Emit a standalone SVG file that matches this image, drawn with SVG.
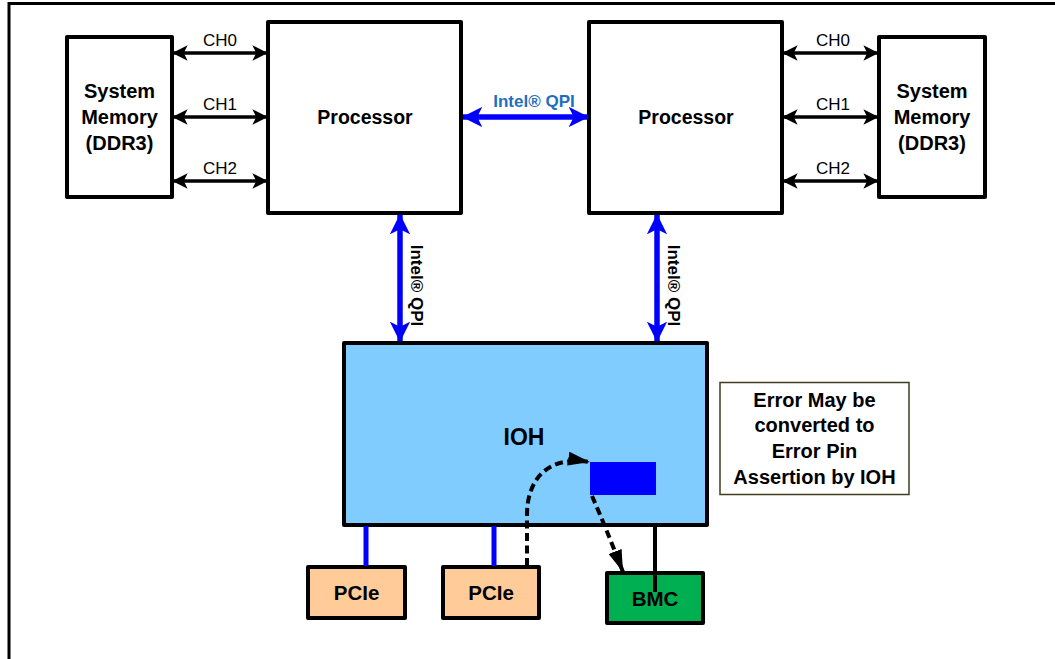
<svg xmlns="http://www.w3.org/2000/svg" width="1055" height="659" viewBox="0 0 1055 659">
<style>
.box{stroke:#000;stroke-width:4;stroke-linejoin:round}
.t{font-family:"Liberation Sans",Arial,sans-serif;font-weight:bold;fill:#000;text-anchor:middle}
.ch{font-family:"Liberation Sans",Arial,sans-serif;font-size:17px;fill:#000;text-anchor:middle}
.blk{stroke:#000;stroke-width:3.5;fill:none}
.qpi{stroke:#0000FF;stroke-width:5.5;fill:none}
.dash{stroke:#000;stroke-width:4;fill:none;stroke-dasharray:8 4.5}
</style>
<defs>
<marker id="ab" viewBox="0 0 10 10" refX="9.5" refY="5" markerWidth="4.4" markerHeight="4.4" orient="auto-start-reverse" markerUnits="strokeWidth">
<path d="M0 0 L10 5 L0 10 L2.5 5 z" fill="#000"/>
</marker>
<marker id="aq" viewBox="0 0 10 10" refX="9.5" refY="5" markerWidth="3.7" markerHeight="3.7" orient="auto-start-reverse" markerUnits="strokeWidth">
<path d="M0 0 L10 5 L0 10 L2.5 5 z" fill="#0000FF"/>
</marker>
<marker id="ad" viewBox="0 0 22 14" refX="22" refY="7" markerWidth="22" markerHeight="14" orient="auto" markerUnits="userSpaceOnUse">
<path d="M0 0 L22 7 L0 14 z" fill="#000"/>
</marker>
</defs>
<rect width="1055" height="659" fill="#fff"/>
<path d="M9 659 V3.5 H1055" stroke="#000" stroke-width="3" fill="none"/>

<g id="mem-left">
<rect class="box" x="67" y="37" width="105" height="160" fill="#fff"/>
<text class="t" font-size="20" x="119.5" y="98">System</text>
<text class="t" font-size="20" x="119.5" y="124">Memory</text>
<text class="t" font-size="20" x="119.5" y="150">(DDR3)</text>
</g>
<g id="proc-left">
<rect class="box" x="268" y="22" width="193" height="191" fill="#fff"/>
<text class="t" font-size="19.5" x="365" y="124">Processor</text>
</g>
<g id="proc-right">
<rect class="box" x="589" y="22" width="193" height="191" fill="#fff"/>
<text class="t" font-size="19.5" x="686" y="124">Processor</text>
</g>
<g id="mem-right">
<rect class="box" x="879" y="37" width="106" height="160" fill="#fff"/>
<text class="t" font-size="20" x="932" y="98">System</text>
<text class="t" font-size="20" x="932" y="124">Memory</text>
<text class="t" font-size="20" x="932" y="150">(DDR3)</text>
</g>
<g id="ioh">
<rect class="box" x="344" y="343" width="363" height="182" fill="#80CCFF"/>
<text class="t" font-size="23" x="524" y="445">IOH</text>
<rect x="590" y="462" width="66" height="33" fill="#0000FF"/>
</g>
<g id="pcie1">
<rect class="box" x="308" y="567" width="97" height="51" fill="#FFCC99"/>
<text class="t" font-size="20.5" x="356.5" y="600">PCIe</text>
</g>
<g id="pcie2">
<rect class="box" x="443" y="567" width="96" height="51" fill="#FFCC99"/>
<text class="t" font-size="20.5" x="491" y="600">PCIe</text>
</g>
<g id="bmc">
<rect class="box" x="607" y="573" width="96" height="50" fill="#00B050"/>
<text class="t" font-size="20.5" x="655" y="606">BMC</text>
</g>
<g id="note">
<rect x="720" y="382.5" width="189" height="112" fill="#fff" stroke="#3F3F1F" stroke-width="1.5"/>
<text class="t" font-size="20" x="814.5" y="407">Error May be</text>
<text class="t" font-size="20" x="814.5" y="432">converted to</text>
<text class="t" font-size="20" x="814.5" y="458">Error Pin</text>
<text class="t" font-size="20" x="814.5" y="484">Assertion by IOH</text>
</g>

<g id="connectors">
<line class="blk" x1="173" y1="53" x2="267" y2="53" marker-start="url(#ab)" marker-end="url(#ab)"/>
<line class="blk" x1="173" y1="117" x2="267" y2="117" marker-start="url(#ab)" marker-end="url(#ab)"/>
<line class="blk" x1="173" y1="181" x2="267" y2="181" marker-start="url(#ab)" marker-end="url(#ab)"/>
<text class="ch" x="220" y="46">CH0</text>
<text class="ch" x="220" y="110">CH1</text>
<text class="ch" x="220" y="174">CH2</text>
<line class="blk" x1="783" y1="53" x2="878" y2="53" marker-start="url(#ab)" marker-end="url(#ab)"/>
<line class="blk" x1="783" y1="117" x2="878" y2="117" marker-start="url(#ab)" marker-end="url(#ab)"/>
<line class="blk" x1="783" y1="181" x2="878" y2="181" marker-start="url(#ab)" marker-end="url(#ab)"/>
<text class="ch" x="833" y="46">CH0</text>
<text class="ch" x="833" y="110">CH1</text>
<text class="ch" x="833" y="174">CH2</text>

<line class="qpi" x1="463" y1="117" x2="588" y2="117" marker-start="url(#aq)" marker-end="url(#aq)"/>
<text class="t" x="534" y="107" font-size="17" style="fill:#1F6FC0">Intel® QPI</text>
<line class="qpi" x1="400" y1="215" x2="400" y2="341" marker-start="url(#aq)" marker-end="url(#aq)"/>
<text class="t" font-size="17" transform="translate(411 285.5) rotate(90)">Intel® QPI</text>
<line class="qpi" x1="657" y1="215" x2="657" y2="341" marker-start="url(#aq)" marker-end="url(#aq)"/>
<text class="t" font-size="17" transform="translate(668 285.5) rotate(90)">Intel® QPI</text>

<line x1="366" y1="526" x2="366" y2="566" stroke="#0000FF" stroke-width="5"/>
<line x1="494" y1="526" x2="494" y2="566" stroke="#0000FF" stroke-width="5"/>
<line x1="655" y1="524" x2="655" y2="592" stroke="#000" stroke-width="4"/>

<path class="dash" d="M527 566 L527 515 C527 482 545 455 590 462" marker-end="url(#ad)"/>
<path class="dash" d="M592 496 Q606 528 623 572" marker-end="url(#ad)"/>
</g>
</svg>
